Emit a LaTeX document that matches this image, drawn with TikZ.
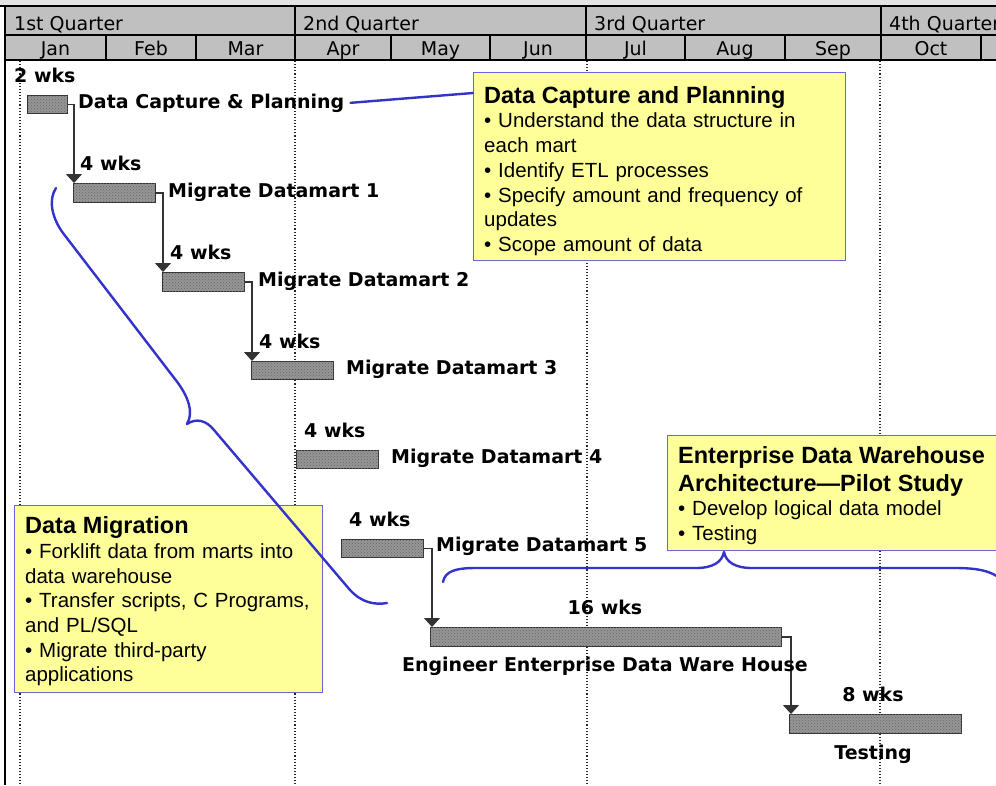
\documentclass[tikz,border=0pt]{standalone}
\usepackage{fontspec}
\setmainfont{Liberation Sans}
\newfontfamily\ganttfont{DejaVu Sans}
\usetikzlibrary{arrows.meta,patterns,calc}

\definecolor{headgray}{RGB}{192,192,192}
\definecolor{notefill}{RGB}{255,255,153}
\definecolor{noteedge}{RGB}{102,102,221}
\definecolor{braceblue}{RGB}{51,51,204}
\definecolor{barfill}{RGB}{150,150,150}

\tikzset{
  gridline/.style={dotted, line width=1.1pt, black!85},
  headline/.style={line width=1.3pt, black},
  qlabel/.style={font=\ganttfont\fontsize{19}{19}\selectfont, inner sep=0pt, anchor=base west},
  mlabel/.style={font=\ganttfont\fontsize{19}{19}\selectfont, inner sep=0pt, anchor=base},
  taskbar/.style={draw=black!80, line width=1.2pt, fill=barfill,
    postaction={pattern=crosshatch dots, pattern color=black!60},
    inner sep=0pt, anchor=north west},
  glabel/.style={font=\ganttfont\bfseries\fontsize{19}{19}\selectfont, inner sep=0pt, anchor=base west},
  conn/.style={draw=black!80, line width=1.3pt, -{Triangle[width=16pt,length=9pt]}},
  note/.style={draw=noteedge, line width=1.2pt, fill=notefill, inner sep=0pt, anchor=north west},
  notetext/.style={anchor=north west, inner sep=0pt, align=left, text width=350pt,
    font=\fontsize{20.5}{24.7}\selectfont},
  bluestroke/.style={draw=braceblue, line width=2.4pt, line cap=round, line join=round},
}
\newcommand{\notetitle}{\fontsize{23.5}{28}\selectfont\bfseries}

\begin{document}
\begin{tikzpicture}[x=1pt,y=-1pt]
\clip (0,0) rectangle (996,785);
\fill[white] (0,0) rectangle (996,785);

% timescale header
\fill[gray!22] (0,0) rectangle (996,6);
\fill[headgray] (5,6) rectangle (996,60);
\draw[headline] (0,6) -- (996,6);
\draw[headline] (5,35) -- (996,35);
\draw[headline] (5,60) -- (996,60);
\foreach \qx in {295,586,881} \draw[headline] (\qx,6) -- (\qx,60);
\foreach \mx in {106,196,391,490,685,785,981} \draw[headline] (\mx,35) -- (\mx,60);
\draw[line width=1.5pt, black] (5,6) -- (5,785);

\node[qlabel] (q1) at (14,30) {1st Quarter};
\node[qlabel] (q2) at (303,30) {2nd Quarter};
\node[qlabel] (q3) at (594,30) {3rd Quarter};
\node[qlabel] (q4) at (889,30) {4th Quarter};

\node[mlabel] (jan) at (55.5,55) {Jan};
\node[mlabel] (feb) at (151,55) {Feb};
\node[mlabel] (mar) at (245.5,55) {Mar};
\node[mlabel] (apr) at (343,55) {Apr};
\node[mlabel] (may) at (440.5,55) {May};
\node[mlabel] (jun) at (538,55) {Jun};
\node[mlabel] (jul) at (635.5,55) {Jul};
\node[mlabel] (aug) at (735,55) {Aug};
\node[mlabel] (sep) at (833,55) {Sep};
\node[mlabel] (oct) at (931,55) {Oct};

% gridlines
\foreach \gx in {20,295,587,880} \draw[gridline] (\gx,61) -- (\gx,785);

% task bars
\node[taskbar, minimum width=40pt, minimum height=18pt] (b0) at (27,95) {};
\node[taskbar, minimum width=82pt, minimum height=19pt] (b1) at (73,183) {};
\node[taskbar, minimum width=82pt, minimum height=19pt] (b2) at (162,272) {};
\node[taskbar, minimum width=82pt, minimum height=18pt] (b3) at (251,361) {};
\node[taskbar, minimum width=82pt, minimum height=18pt] (b4) at (296,450) {};
\node[taskbar, minimum width=82pt, minimum height=18pt] (b5) at (341,539) {};
\node[taskbar, minimum width=351pt, minimum height=19pt] (b6) at (430,627) {};
\node[taskbar, minimum width=172pt, minimum height=19pt] (b7) at (789,714) {};

% dependencies
\draw[conn] (b0.east) -| ([xshift=1pt]b1.north west);
\draw[conn] (b1.east) -| ([xshift=1pt]b2.north west);
\draw[conn] (b2.east) -| ([xshift=1pt]b3.north west);
\draw[conn] (b5.east) -| ([xshift=2pt]b6.north west);
\draw[conn] (b6.east) -| ([xshift=2pt]b7.north west);

% durations and task names
\node[glabel] (w0) at (14,82) {2 wks};
\node[glabel] (t0) at (78,108) {Data Capture \& Planning};
\node[glabel] (w1) at (80,170) {4 wks};
\node[glabel] (t1) at (168,197) {Migrate Datamart 1};
\node[glabel] (w2) at (170,259) {4 wks};
\node[glabel] (t2) at (258,286) {Migrate Datamart 2};
\node[glabel] (w3) at (259,348) {4 wks};
\node[glabel] (t3) at (346,374) {Migrate Datamart 3};
\node[glabel] (w4) at (304,437) {4 wks};
\node[glabel] (t4) at (391,463) {Migrate Datamart 4};
\node[glabel] (w5) at (349,526) {4 wks};
\node[glabel] (t5) at (436,551) {Migrate Datamart 5};
\node[glabel, anchor=base] (w6) at (605,614) {16 wks};
\node[glabel, anchor=base] (t6) at (605,671) {Engineer Enterprise Data Ware House};
\node[glabel, anchor=base] (w7) at (873,701) {8 wks};
\node[glabel, anchor=base] (t7) at (873,759) {Testing};

% note: data capture and planning
\node[note, minimum width=372pt, minimum height=188pt] (n1) at (473,72) {};
\node[notetext] (n1t) at (484,86) {{\notetitle Data Capture and Planning\par}%
• Understand the data structure in\\ each mart\\ • Identify ETL processes\\
• Specify amount and frequency of\\ updates\\ • Scope amount of data};
\draw[bluestroke] ([xshift=6pt]t0.east) -- ([yshift=-21pt]n1.north west);

% note: enterprise data warehouse
\node[note, minimum width=345pt, minimum height=115pt] (n2) at (667,435) {};
\node[notetext] (n2t) at (678,446) {{\notetitle Enterprise Data Warehouse\\ Architecture—Pilot Study\par}%
• Develop logical data model\\ • Testing};
\draw[bluestroke] (443,582) .. controls (445,571) and (456,568) .. (476,568)
  -- (696,568) .. controls (713,568) and (722,562) .. (724,552)
  .. controls (726,562) and (735,568) .. (752,568)
  -- (955,568) .. controls (978,568) and (992,571) .. (1002,580);

% note: data migration
\node[note, minimum width=308pt, minimum height=187pt] (n3) at (14,505) {};
\node[notetext] (n3t) at (25,516.5) {{\notetitle Data Migration\par}%
• Forklift data from marts into\\ data warehouse\\ • Transfer scripts, C Programs,\\
and PL/SQL\\ • Migrate third-party\\ applications};
\draw[bluestroke] (56,188) .. controls (48,200) and (52,218) .. (63,233)
  -- (178,383) .. controls (188,397) and (194,412) .. (187,424)
  .. controls (196,418) and (206,420) .. (214,430)
  -- (350,590) .. controls (362,603) and (375,605) .. (387,603);

\end{tikzpicture}
\end{document}
